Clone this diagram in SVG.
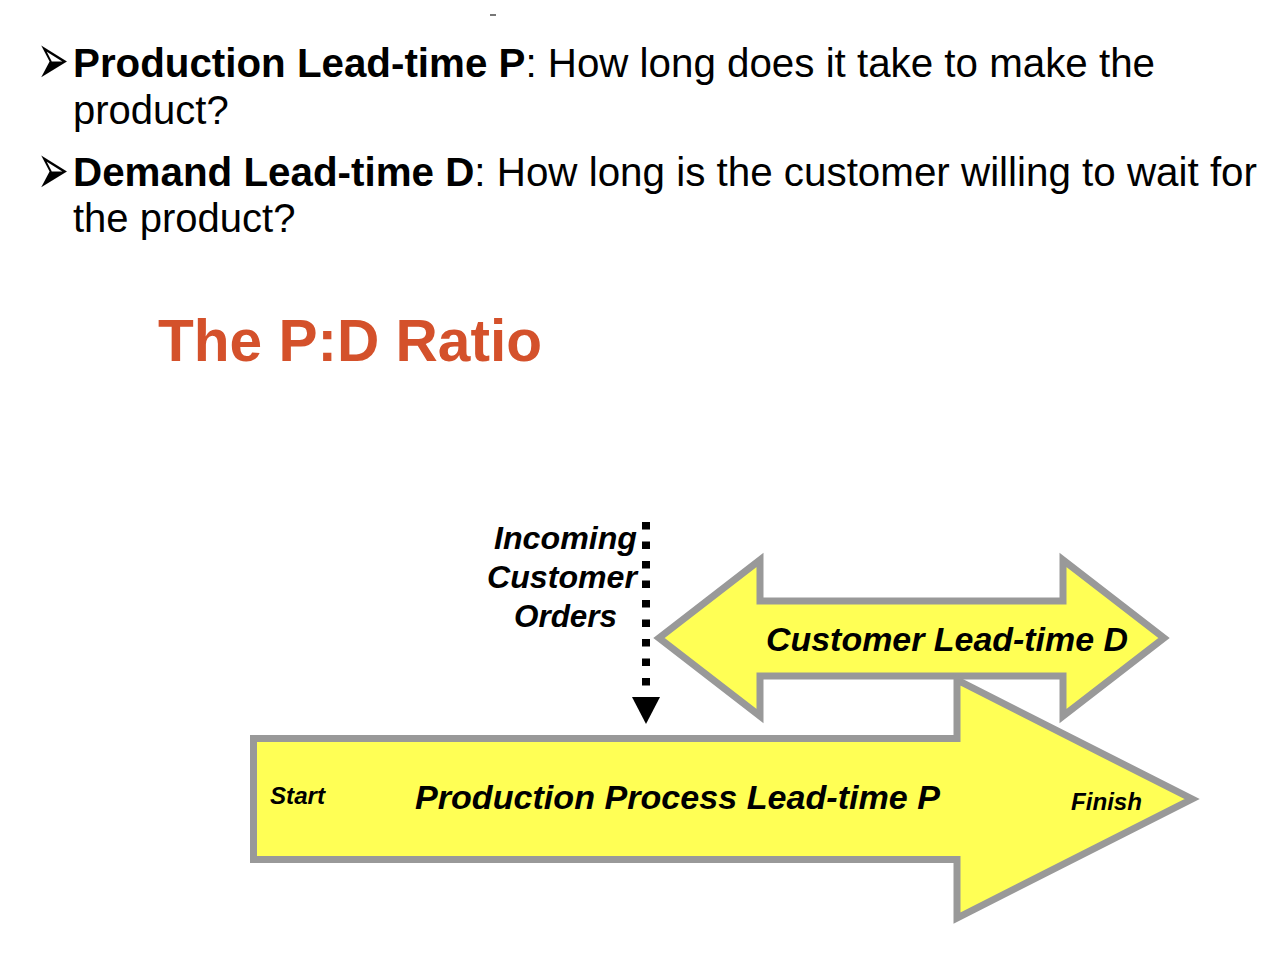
<svg xmlns="http://www.w3.org/2000/svg" width="1274" height="961" viewBox="0 0 1274 961">
<style>
.body{font-family:"Liberation Sans",Arial,sans-serif;font-size:40px;fill:#000}
.b{font-weight:bold}
.bul{font-family:"DejaVu Sans",sans-serif;font-size:38px;fill:#000}
.title{font-family:"Liberation Sans",Arial,sans-serif;font-weight:bold;font-size:60px;fill:#D4512B}
.lbl{font-family:"Liberation Sans",Arial,sans-serif;font-weight:bold;font-style:italic;fill:#000}
.arrow{fill:#FFFF55;stroke:#999999;stroke-width:7;stroke-linejoin:miter}
</style>
<rect width="1274" height="961" fill="#ffffff"/>
<line x1="490" y1="15" x2="496" y2="15" stroke="#777" stroke-width="2"/>
<g id="bullets">
<text class="bul" transform="translate(37,60) scale(1,1.9)" x="0" y="12.7">➢</text>
<text class="body" x="73" y="77" textLength="1082" lengthAdjust="spacingAndGlyphs"><tspan class="b">Production Lead-time P</tspan>: How long does it take to make the</text>
<text class="body" x="73" y="124">product?</text>
<text class="bul" transform="translate(37,170) scale(1,1.9)" x="0" y="12.7">➢</text>
<text class="body" x="73" y="186" textLength="1184" lengthAdjust="spacingAndGlyphs"><tspan class="b">Demand Lead-time D</tspan>: How long is the customer willing to wait for</text>
<text class="body" x="73" y="232">the product?</text>
</g>
<text id="title" class="title" x="158" y="361" textLength="384" lengthAdjust="spacingAndGlyphs">The P:D Ratio</text>
<g id="customer-leadtime">
<polygon class="arrow" points="659,638 760,560 760,601 1063,601 1063,560 1164,638 1063,716 1063,676 760,676 760,716"/>
<text class="lbl" x="766" y="651" font-size="33" textLength="362" lengthAdjust="spacingAndGlyphs">Customer Lead-time D</text>
</g>
<g id="production-leadtime">
<polygon class="arrow" points="253.5,738.5 957,738.5 957,680 1192,799 957,918 957,859.5 253.5,859.5"/>
<text class="lbl" x="270" y="804" font-size="24" textLength="55" lengthAdjust="spacingAndGlyphs">Start</text>
<text class="lbl" x="415" y="809" font-size="34" textLength="525" lengthAdjust="spacingAndGlyphs">Production Process Lead-time P</text>
<text class="lbl" x="1071" y="810" font-size="24" textLength="71" lengthAdjust="spacingAndGlyphs">Finish</text>
</g>
<g id="incoming-orders">
<text class="lbl" font-size="32" x="494" y="549" textLength="143" lengthAdjust="spacingAndGlyphs">Incoming</text>
<text class="lbl" font-size="32" x="487" y="588" textLength="150" lengthAdjust="spacingAndGlyphs">Customer</text>
<text class="lbl" font-size="32" x="514" y="627" textLength="103" lengthAdjust="spacingAndGlyphs">Orders</text>
</g>
<g id="connectors">
<line x1="646" y1="522" x2="646" y2="692" stroke="#000" stroke-width="8" stroke-dasharray="7.5 12"/>
<polygon points="632,697 660,697 646,724" fill="#000"/>
</g>
</svg>
